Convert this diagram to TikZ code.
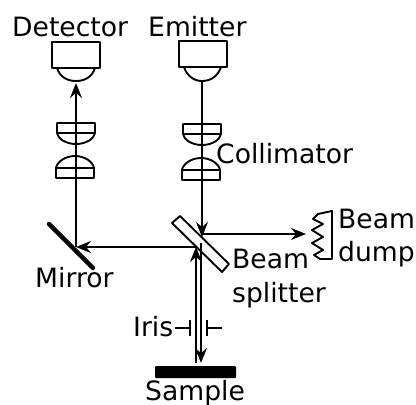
\documentclass[tikz,border=0pt]{standalone}
\usepackage{fontspec}
\setmainfont{DejaVu Sans}
\usetikzlibrary{arrows.meta}
\usetikzlibrary{positioning}
\tikzset{
	beam/.style={line width=1.9pt,-{Stealth[length=15pt,width=12pt,inset=5pt]}},
	part/.style={line width=1.9pt,line join=round},
	housing/.style={part,draw,rectangle,inner sep=0pt,minimum width=48pt,minimum height=26pt},
	label/.style={inner sep=0pt,anchor=base west,font=\fontsize{26.6}{30}\selectfont},
}
\begin{document}
\begin{tikzpicture}[x=1pt,y=-1pt]
		\useasboundingbox (0,0) rectangle (416,405);

		\node [housing] (detector) at (76,55) {};
		\node [housing] (emitter) at (203,54) {};
		\coordinate (detector tip) at (76,83);
		\coordinate (emitter tip) at (202,81);
		\coordinate (mirror top) at (49,224);
		\coordinate (mirror bottom) at (93,268);
		\coordinate (mirror hit) at (76,247);
		\coordinate (splitter top) at (202,237);
		\coordinate (splitter left) at (196,247);
		\coordinate (splitter right) at (202,234);
		\coordinate (dump front) at (306,234);
		\coordinate (sample top down) at (201,363);
		\coordinate (sample top up) at (196,363);
		\coordinate (splitter exit) at (201,243);

		% domes on the two housings
		\draw [part] (57,68) .. controls (60,77) and (67,81) .. (76,81) .. controls (85,81) and (92,77) .. (95,68);
		\draw [part] (184,67) .. controls (187,76) and (194,81) .. (202,81) .. controls (211,81) and (218,76) .. (221,67);

		% collimating lenses
		\foreach \lensx/\lenstop/\lenslow in {76/123/168,202/124/170} {
			\draw [part] (\lensx-19,\lenstop) -- (\lensx+19,\lenstop) -- (\lensx+19,\lenstop+10) .. controls (\lensx+18,\lenstop+16) and (\lensx+10,\lenstop+21) .. (\lensx,\lenstop+21) .. controls (\lensx-10,\lenstop+21) and (\lensx-18,\lenstop+16) .. (\lensx-19,\lenstop+10) -- cycle;
			\draw [part] (\lensx-19,\lenstop+10) -- (\lensx+19,\lenstop+10);
			\draw [part] (\lensx-20,\lenslow+10) -- (\lensx+18,\lenslow+10) -- (\lensx+18,\lenslow) .. controls (\lensx+17,\lenslow-6) and (\lensx+9,\lenslow-12) .. (\lensx-1,\lenslow-12) .. controls (\lensx-11,\lenslow-12) and (\lensx-19,\lenslow-6) .. (\lensx-20,\lenslow) -- cycle;
			\draw [part] (\lensx-20,\lenslow) -- (\lensx+18,\lenslow);
		}

		% mirror, splitter, sample
		\draw [line width=4.5pt,line cap=round] (mirror top) -- (mirror bottom);
		\draw [part] (180,216) -- (172,223) -- (222,272) -- (229,264) -- cycle;
		\node [fill=black,rectangle,rounded corners=1pt,inner sep=0pt,minimum width=81pt,minimum height=12pt] (sample) at (195.5,372) {};

		% dump
		\draw [part] (332,211) -- (318,214) -- (313,219) -- (323,224) -- (312,230) -- (323,237) -- (312,243) -- (323,250) -- (314,255) -- (320,259) -- (332,259) -- cycle;

		% iris
		\draw [part] (175,328) -- (190,328);
		\draw [part] (190,320) -- (190,336);
		\draw [part] (207,328) -- (222,328);
		\draw [part] (207,320) -- (207,336);

		% beams
		\draw [beam] (mirror hit) -- (detector tip);
		\draw [beam] (emitter tip) -- (splitter top);
		\draw [beam] (splitter right) -- (dump front);
		\draw [beam] (splitter left) -- (mirror hit);
		\draw [beam] (sample top up) -- (splitter left);
		\draw [beam] (splitter exit) -- (sample top down);

		% labels
		\node [label] (detector label) at (12,36) {Detector};
		\node [label] (emitter label) at (148,36) {Emitter};
		\node [label] (collimator label) at (216,163) {Collimator};
		\node [label] (dump label a) at (338,228) {Beam};
		\node [label] (dump label b) at (338,261) {dump};
		\node [label] (splitter label a) at (232,268) {Beam};
		\node [label] (splitter label b) at (232,302) {splitter};
		\node [label] (mirror label) at (35,287) {Mirror};
		\node [label] (iris label) at (133,336) {Iris};
		\node [label] (sample label) at (145,400) {Sample};
	\end{tikzpicture}
\end{document}
